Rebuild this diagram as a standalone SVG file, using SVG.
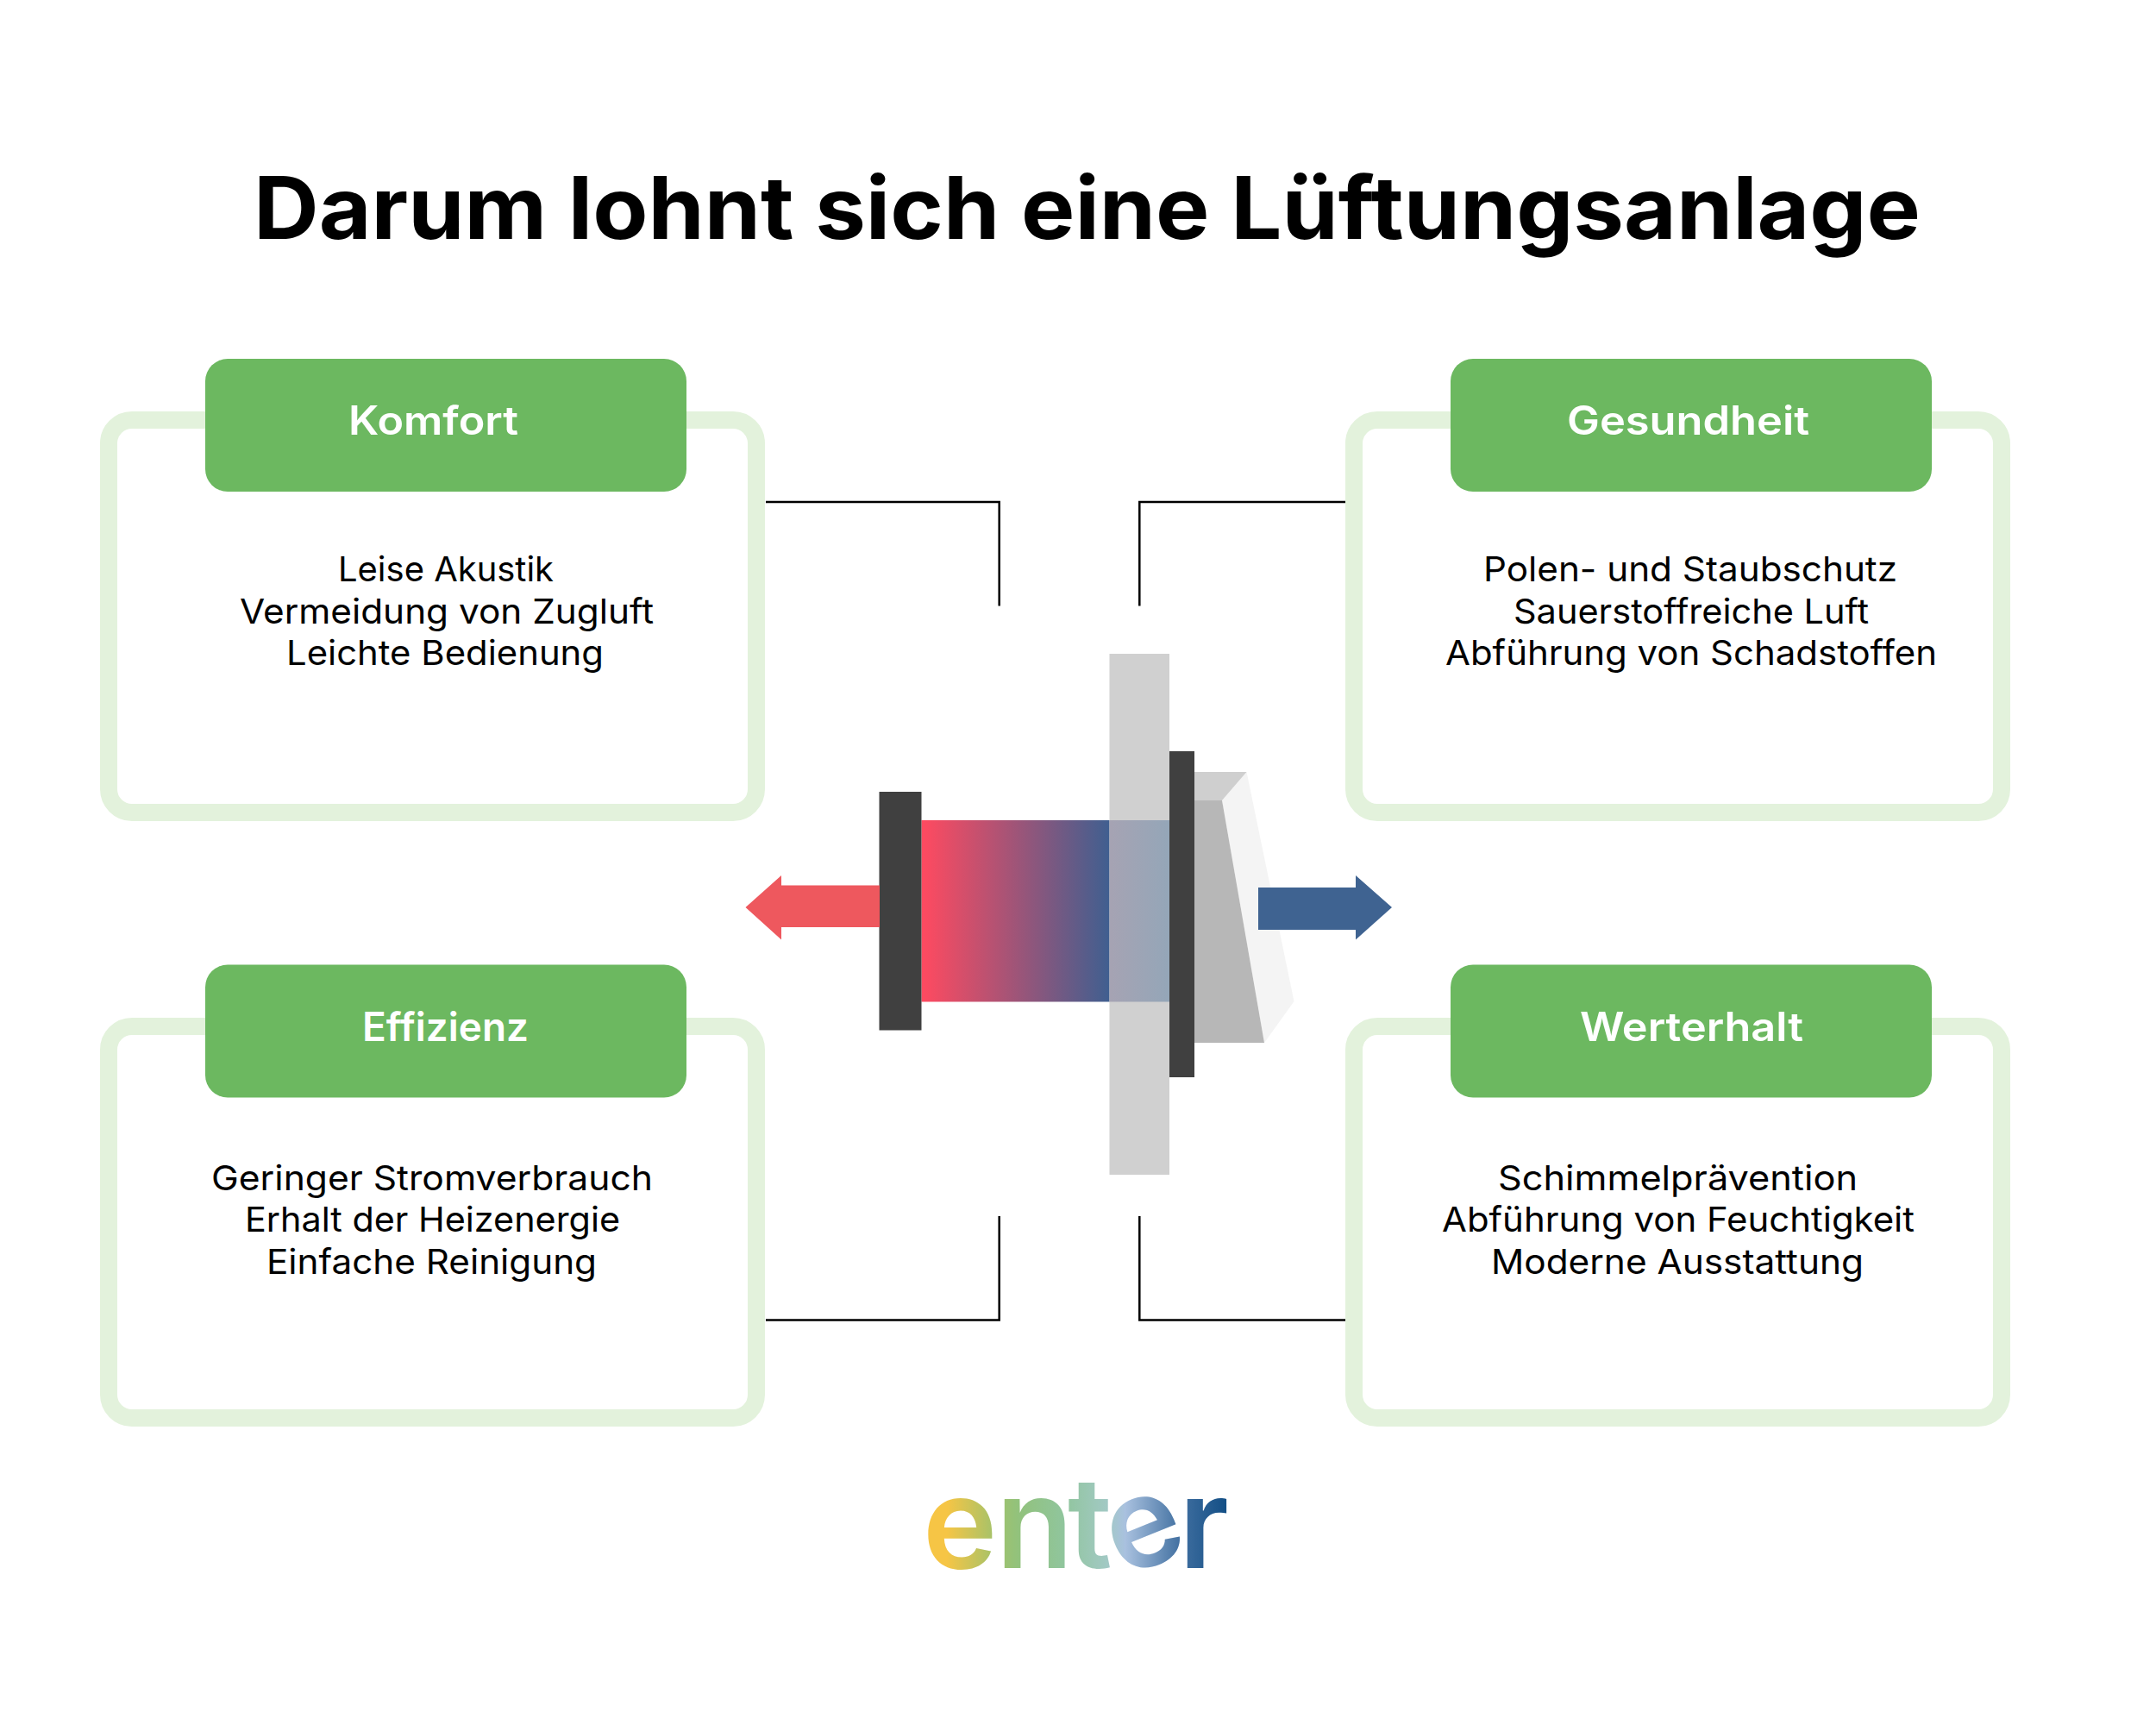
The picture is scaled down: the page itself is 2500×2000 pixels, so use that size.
<svg xmlns="http://www.w3.org/2000/svg" width="2500" height="2000" viewBox="0 0 2500 2000">
<style>
text{font-family:"Inter","Noto Sans","Liberation Sans",sans-serif}
.title{font-size:100px;font-weight:650;fill:#000}
.head{font-size:46px;font-weight:600;fill:#fff}
.body{font-size:40px;font-weight:400;fill:#000}
.frame{fill:#fff;stroke:#e3f2dc;stroke-width:20}
.tab{fill:#6cb860}
.conn{fill:none;stroke:#000;stroke-width:2.500}
.logo{font-size:146px;font-weight:600;fill:url(#logoGrad)}
</style>
<defs>
<linearGradient id="duct" gradientUnits="userSpaceOnUse" x1="1069" y1="0" x2="1356" y2="0"><stop offset="0" stop-color="#ff4a60"/><stop offset=".76" stop-color="#3f5f90"/><stop offset="1" stop-color="#3f6391"/></linearGradient>
<linearGradient id="wallDuct" gradientUnits="userSpaceOnUse" x1="1286" y1="0" x2="1356" y2="0"><stop offset="0" stop-color="#a6a3b3"/><stop offset="1" stop-color="#94a6b8"/></linearGradient>
<linearGradient id="logoGrad" gradientUnits="userSpaceOnUse" x1="1077" y1="0" x2="1422" y2="0"><stop offset="0" stop-color="#f6c545"/><stop offset=".06" stop-color="#f6c545"/><stop offset=".23" stop-color="#a0c26c"/><stop offset=".3" stop-color="#92c27c"/><stop offset=".45" stop-color="#90c59c"/><stop offset=".6" stop-color="#a2c9c4"/><stop offset=".66" stop-color="#a9c1df"/><stop offset=".85" stop-color="#3f6e9f"/><stop offset="1" stop-color="#134f86"/></linearGradient>
</defs>
<rect width="2500" height="2000" fill="#fff"/>
<text id="title" class="title" x="294" y="277" textLength="1933" lengthAdjust="spacingAndGlyphs">Darum lohnt sich eine Lüftungsanlage</text>
<g id="connectors">
<path class="conn" d="M888 582H1158.700V702.500"/>
<path class="conn" d="M1321.300 702.500V582H1560"/>
<path class="conn" d="M888 1530.500H1158.700V1410"/>
<path class="conn" d="M1321.300 1410V1530.500H1560"/>
</g>
<g id="komfort">
<rect class="frame" x="126" y="487" width="751" height="455" rx="27"/>
<rect class="tab" x="238" y="416" width="558" height="154" rx="26"/>
<text class="head" x="404" y="503.500" textLength="197" lengthAdjust="spacingAndGlyphs">Komfort</text>
<text class="body" x="392" y="674" textLength="250" lengthAdjust="spacingAndGlyphs">Leise Akustik</text>
<text class="body" x="278" y="722.500" textLength="480" lengthAdjust="spacingAndGlyphs">Vermeidung von Zugluft</text>
<text class="body" x="332" y="770.500" textLength="368" lengthAdjust="spacingAndGlyphs">Leichte Bedienung</text>
</g>
<g id="gesundheit">
<rect class="frame" x="1570" y="487" width="751" height="455" rx="27"/>
<rect class="tab" x="1682" y="416" width="558" height="154" rx="26"/>
<text class="head" x="1817" y="503.500" textLength="281" lengthAdjust="spacingAndGlyphs">Gesundheit</text>
<text class="body" x="1720" y="674" textLength="480" lengthAdjust="spacingAndGlyphs">Polen- und Staubschutz</text>
<text class="body" x="1755" y="722.500" textLength="412" lengthAdjust="spacingAndGlyphs">Sauerstoffreiche Luft</text>
<text class="body" x="1676" y="770.500" textLength="570" lengthAdjust="spacingAndGlyphs">Abführung von Schadstoffen</text>
</g>
<g id="effizienz">
<rect class="frame" x="126" y="1190" width="751" height="454" rx="27"/>
<rect class="tab" x="238" y="1118.500" width="558" height="154" rx="26"/>
<text class="head" x="420" y="1207" textLength="193" lengthAdjust="spacingAndGlyphs">Effizienz</text>
<text class="body" x="245" y="1380" textLength="512" lengthAdjust="spacingAndGlyphs">Geringer Stromverbrauch</text>
<text class="body" x="284" y="1428" textLength="435" lengthAdjust="spacingAndGlyphs">Erhalt der Heizenergie</text>
<text class="body" x="309" y="1476.500" textLength="383" lengthAdjust="spacingAndGlyphs">Einfache Reinigung</text>
</g>
<g id="werterhalt">
<rect class="frame" x="1570" y="1190" width="751" height="454" rx="27"/>
<rect class="tab" x="1682" y="1118.500" width="558" height="154" rx="26"/>
<text class="head" x="1832" y="1207" textLength="259" lengthAdjust="spacingAndGlyphs">Werterhalt</text>
<text class="body" x="1737" y="1380" textLength="417" lengthAdjust="spacingAndGlyphs">Schimmelprävention</text>
<text class="body" x="1672" y="1428" textLength="548" lengthAdjust="spacingAndGlyphs">Abführung von Feuchtigkeit</text>
<text class="body" x="1729" y="1476.500" textLength="432" lengthAdjust="spacingAndGlyphs">Moderne Ausstattung</text>
</g>
<g id="ventilation-unit">
<rect x="1286.500" y="758" width="69.500" height="604" fill="#d0d0d0"/>
<rect x="1068.500" y="951" width="218" height="210.500" fill="url(#duct)"/>
<rect x="1286.500" y="951" width="69.500" height="210.500" fill="url(#wallDuct)"/>
<polygon points="1445.500,895 1500.500,1161 1466,1209 1417,928" fill="#f4f4f4"/>
<polygon points="1385,895 1445.500,895 1417,928 1385,928" fill="#cfcfcf"/>
<polygon points="1385,928 1417,928 1466,1209 1385,1209" fill="#b7b7b7"/>
<rect x="1019.500" y="918" width="49" height="276.500" fill="#404040"/>
<rect x="1356" y="871" width="29" height="378" fill="#404040"/>
</g>
<g id="arrows">
<polygon points="1020,1026.500 906,1026.500 906,1015 864.500,1052 906,1089.500 906,1075 1020,1075" fill="#ee585e"/>
<polygon points="1459,1029 1572,1029 1572,1015 1614,1052 1572,1089.500 1572,1078 1459,1078" fill="#3f6391"/>
</g>
<text id="logo" class="logo" x="1070 1155 1238 1302 1367" y="1817.500 1817.500 1817.500 1829.500 1817.500" rotate="0 0 0 -22 0">enter</text>
</svg>
